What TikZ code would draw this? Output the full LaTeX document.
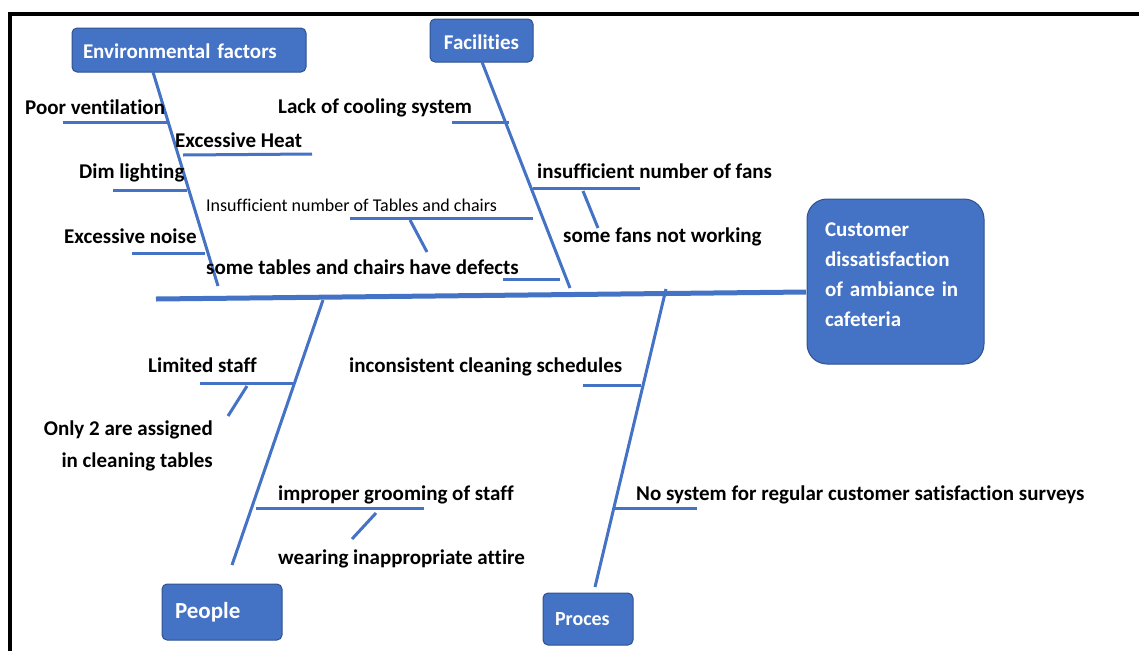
\documentclass[tikz,border=0pt]{standalone}
\usepackage{fontspec}
\setmainfont{Carlito}[Ligatures=NoCommon]
\definecolor{boneblue}{HTML}{4472C4}
\definecolor{boxedge}{HTML}{2F528F}

\begin{document}
\begin{tikzpicture}[x=1pt,y=-1pt]
    \tikzstyle{catbox} = [draw=boxedge,fill=boneblue,line width=1pt,rounded corners=5pt,
                          text=white,align=left,font=\bfseries\fontsize{21}{25}\selectfont]
    \tikzstyle{bone} = [draw=boneblue,line width=3pt]
    \tikzstyle{spine} = [draw=boneblue,line width=5pt]
    \tikzstyle{cause} = [font=\bfseries\fontsize{21}{25}\selectfont,inner sep=0pt,anchor=base west]
    \tikzstyle{smallcause} = [cause,font=\fontsize{18}{22}\selectfont]
    \useasboundingbox (0,0) rectangle (1139,651);
    % frame (top and left only)
    \draw[line width=4pt] (10,651) -- (10,14) -- (1139,14);
    % head and category boxes
    \node[catbox,rounded corners=20pt,minimum height=165pt,text width=141pt,inner xsep=18pt,
          text depth=104pt,font=\bfseries\fontsize{21}{30}\selectfont] (cust) at (895.5,281.5)
          {Customer\\dissatisfaction\\of ambiance in\\cafeteria};
    \node[catbox,minimum height=44pt,text width=212pt,inner xsep=11pt,text height=18pt] (env) at (189,50)
          {Environmental factors};
    \node[catbox,minimum height=43pt,text width=79pt,inner xsep=12pt,align=center,text height=18pt] (fac)
          at (481.5,40.5) {Facilities};
    \node[catbox,minimum height=56pt,text width=94pt,inner xsep=13pt,
          font=\bfseries\fontsize{23}{27}\selectfont] (ppl) at (222,612) {People};
    \node[catbox,minimum height=52pt,text width=66pt,inner xsep=12pt,font=\bfseries\fontsize{20}{24}\selectfont]
          (proc) at (588,619) {Proces};
    % spine and main bones
    \coordinate (tail) at (156,299);
    \coordinate (head) at (806,292);
    \draw[spine] (tail) -- (head);
    \coordinate (envtop) at (153,72);   \coordinate (envend) at (218,286);
    \coordinate (factop) at (482,62);   \coordinate (facend) at (570,288);
    \coordinate (pplbeg) at (323,300);  \coordinate (pplend) at (232,565);
    \coordinate (procbeg) at (666,289); \coordinate (procend) at (595,587);
    \draw[bone] (envtop) -- (envend);
    \draw[bone] (factop) -- (facend);
    \draw[bone] (pplbeg) -- (pplend);
    \draw[bone] (procbeg) -- (procend);
    % environmental factors
    \draw[bone] (63,122) -- (168,122);
    \draw[bone] (183,155) -- (312,154);
    \draw[bone] (113,190) -- (187,190);
    \draw[bone] (132,253) -- (205,253);
    \node[cause] (poorvent) at (25,114) {Poor ventilation};
    \node[cause] (heat) at (175,147) {Excessive Heat};
    \node[cause] (dim) at (79,178) {Dim lighting};
    \node[cause] (noise) at (64,243) {Excessive noise};
    % facilities
    \draw[bone] (452,122) -- (509,122);
    \draw[bone] (533,188) -- (640,188);
    \draw[bone] (583,191) -- (598,228);
    \draw[bone] (350,218) -- (533,218);
    \draw[bone] (410,220) -- (427,252);
    \draw[bone] (503,279) -- (560,279);
    \node[cause] (cooling) at (278,113) {Lack of cooling system};
    \node[cause] (fans) at (537,178) {insufficient number of fans};
    \node[cause] (fansoff) at (563,242) {some fans not working};
    \node[smallcause] (tables) at (206,211) {Insufficient number of Tables and chairs};
    \node[cause] (defects) at (206,274) {some tables and chairs have defects};
    % people
    \draw[bone] (200,383) -- (293,383);
    \draw[bone] (247,386) -- (228,416);
    \draw[bone] (256,508) -- (424,508);
    \draw[bone] (376,513) -- (352,539);
    \node[cause] (staff) at (148,372) {Limited staff};
    \node[cause,anchor=north east,align=right,font=\bfseries\fontsize{21}{32}\selectfont] (onlytwo)
          at (213,421) {Only 2 are assigned\\in cleaning tables};
    \node[cause] (grooming) at (278,500) {improper grooming of staff};
    \node[cause] (attire) at (278,564) {wearing inappropriate attire};
    % process
    \draw[bone] (583,385) -- (641,385);
    \draw[bone] (614,508) -- (697,508);
    \node[cause] (schedules) at (349,372) {inconsistent cleaning schedules};
    \node[cause] (surveys) at (636,500) {No system for regular customer satisfaction surveys};
\end{tikzpicture}
\end{document}
